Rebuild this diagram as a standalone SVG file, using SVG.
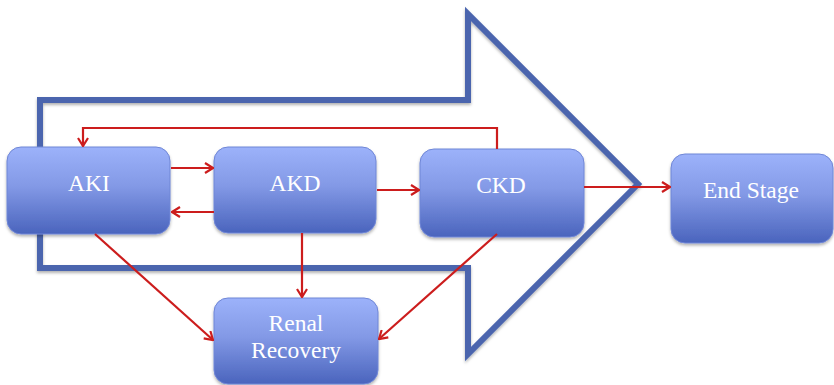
<svg xmlns="http://www.w3.org/2000/svg" width="834" height="385" viewBox="0 0 834 385">
<defs>
<linearGradient id="g" x1="0" y1="0" x2="0" y2="1">
<stop offset="0" stop-color="#9cb2fa"/>
<stop offset="0.45" stop-color="#8399e6"/>
<stop offset="1" stop-color="#4a64bd"/>
</linearGradient>
<filter id="sh" x="-10%" y="-10%" width="120%" height="130%">
<feDropShadow dx="0" dy="2" stdDeviation="1.5" flood-color="#000" flood-opacity="0.3"/>
</filter>
<marker id="ah" viewBox="0 0 12 12" refX="11" refY="6" markerWidth="12" markerHeight="12" markerUnits="userSpaceOnUse" orient="auto">
<path d="M3,1 L11,6 L3,11" fill="none" stroke="#cc1d1d" stroke-width="2.2"/>
</marker>
</defs>
<style>
.box{fill:url(#g);stroke:#6f86d6;stroke-width:1;filter:url(#sh)}
.lbl{font-family:"Liberation Serif","DejaVu Serif",serif;font-size:23.5px;fill:#fff;text-anchor:middle}
.c{fill:none;stroke:#cc1d1d;stroke-width:2.2;marker-end:url(#ah)}
</style>
<rect width="834" height="385" fill="#fff"/>
<path id="bigarrow" d="M40,100 L468,100 L468,14 L638,184 L468,354 L468,268 L40,268 Z" fill="none" stroke="#4b65ae" stroke-width="6" stroke-linejoin="miter" filter="url(#sh)"/>
<g id="aki"><rect class="box" x="7" y="147" width="163" height="87" rx="14"/><text class="lbl" x="89" y="191">AKI</text></g>
<g id="akd"><rect class="box" x="214" y="147" width="162" height="86" rx="14"/><text class="lbl" x="295" y="191">AKD</text></g>
<g id="ckd"><rect class="box" x="420" y="149" width="164" height="88" rx="14"/><text class="lbl" x="501" y="193">CKD</text></g>
<g id="endstage"><rect class="box" x="671" y="154" width="162" height="89" rx="14"/><text class="lbl" x="751" y="198">End Stage</text></g>
<g id="renal"><rect class="box" x="214" y="298" width="164" height="86" rx="14"/><text class="lbl" x="296" y="331">Renal</text><text class="lbl" x="296" y="358">Recovery</text></g>
<g id="connectors">
<path class="c" d="M171,168 L213,168"/>
<path class="c" d="M214,212 L172,212"/>
<path class="c" d="M377,190 L419,190"/>
<path class="c" d="M497,149 L497,128 L83,128 L83,146"/>
<path class="c" d="M584,187 L670,187"/>
<path class="c" d="M95,234 L213,340"/>
<path class="c" d="M302,233 L302,297"/>
<path class="c" d="M497,234 L379,339"/>
</g>
</svg>
